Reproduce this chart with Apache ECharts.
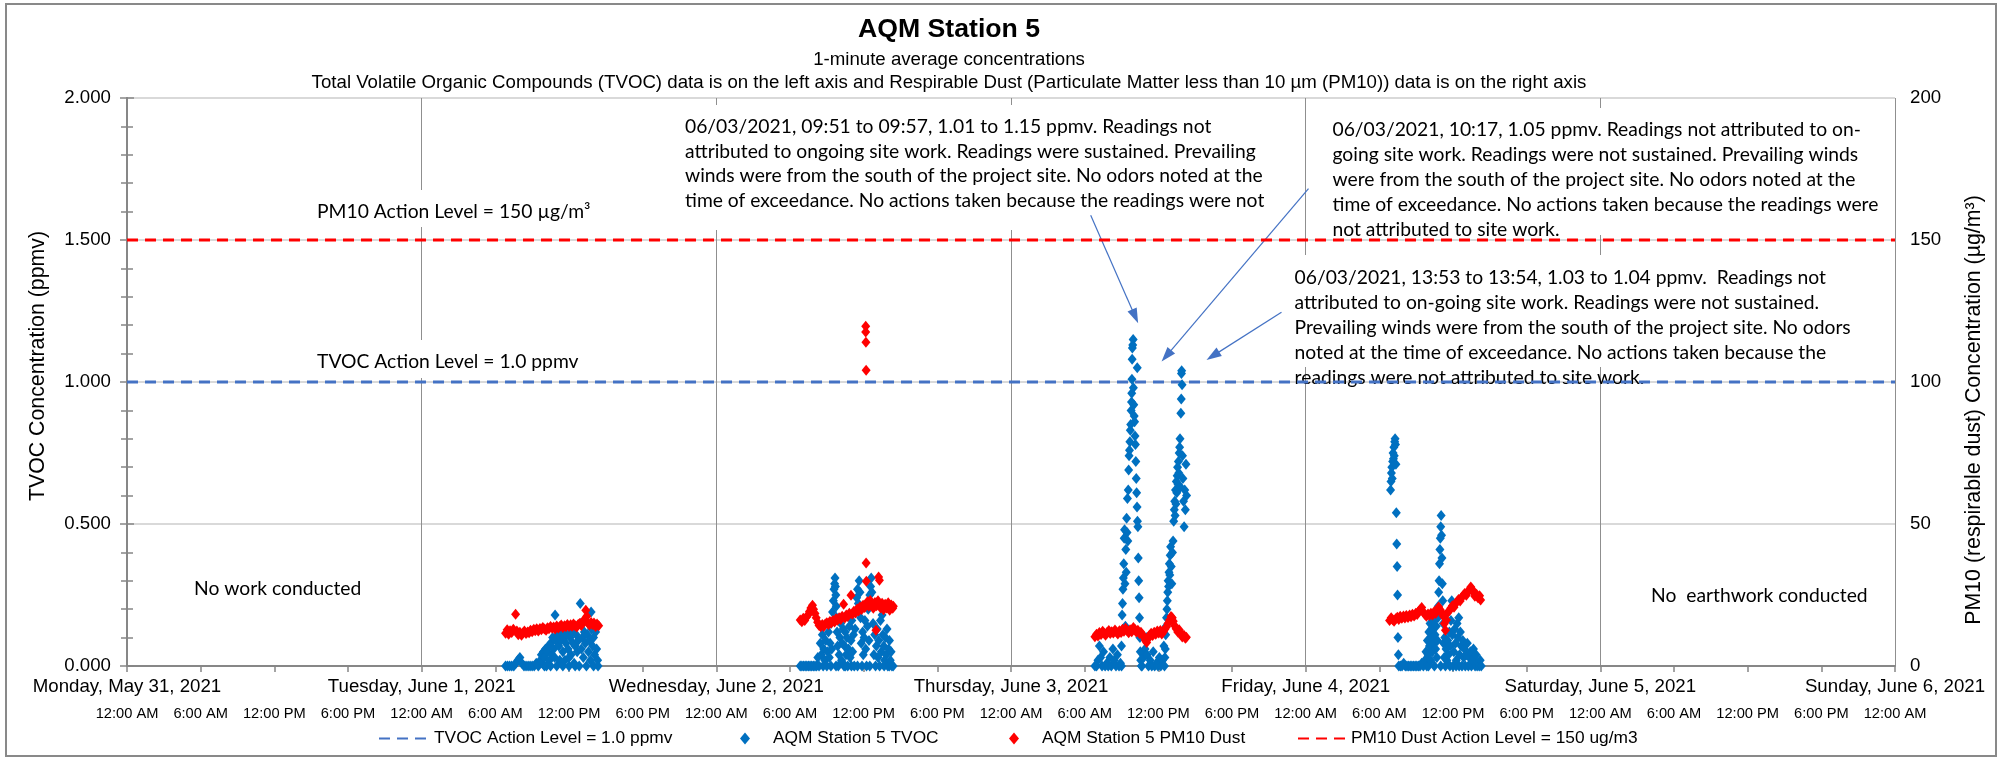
<!DOCTYPE html>
<html>
<head>
<meta charset="utf-8">
<script src="https://cdn.jsdelivr.net/npm/echarts@6/dist/echarts.min.js"></script>
<style>
html,body{margin:0;padding:0;background:#fff;}
#chart{width:2001px;height:761px;}
</style>
</head>
<body>
<div id="chart"></div>
<script>
// ---------------- DATA ----------------
// x axis: hours since Monday, May 31, 2021 00:00
const dayLabels = ["Monday, May 31, 2021","Tuesday, June 1, 2021","Wednesday, June 2, 2021","Thursday, June 3, 2021","Friday, June 4, 2021","Saturday, June 5, 2021","Sunday, June 6, 2021"];
const timeLabels = ["12:00 AM","6:00 AM","12:00 PM","6:00 PM"];
const xMaxHours = 144;
const tvocTicks = [0, 2, 0.5];      // min, max, interval (ppmv)
const pm10Ticks = [0, 200, 50];     // min, max, interval (ug/m3)
const tvocActionLevel = 1.0;
const pm10ActionLevel = 150;

// TVOC (ppmv), [time of day, value]
const tvocJun1 = [["06:50",0],["07:00",0],["07:10",0],["07:20",0],["07:30",0],["07:40",0.01],["07:50",0.02],["08:00",0.03],["08:10",0.01],["08:20",0],["08:30",0],["08:40",0],["08:50",0],["09:00",0],["09:10",0],["09:20",0.01],["09:30",0],["09:40",0.02],["09:45",0.04],["09:50",0.01],["09:55",0.05],["10:00",0.03],["10:00",0],["10:05",0.06],["10:10",0],["10:15",0.05],["10:20",0.07],["10:25",0.02],["10:30",0.08],["10:30",0],["10:35",0.04],["10:40",0.10],["10:45",0.06],["10:50",0.03],["10:52",0.18],["10:55",0.09],["11:00",0],["11:05",0.11],["11:10",0.07],["11:15",0.02],["11:20",0.09],["11:25",0.12],["11:30",0.05],["11:30",0],["11:35",0.10],["11:40",0.02],["11:45",0.08],["11:50",0.11],["11:55",0.06],["12:00",0],["12:00",0.03],["12:05",0.10],["12:10",0.04],["12:15",0.12],["12:20",0.08],["12:25",0.01],["12:30",0.07],["12:30",0],["12:35",0.11],["12:40",0.05],["12:45",0.09],["12:50",0],["12:55",0.22],["12:57",0.15],["13:00",0.06],["13:05",0.10],["13:10",0.03],["13:15",0.12],["13:20",0.08],["13:25",0],["13:30",0.11],["13:35",0.05],["13:40",0.09],["13:45",0.02],["13:48",0.19],["13:50",0.13],["13:55",0.07],["14:00",0],["14:00",0.10],["14:05",0.04],["14:10",0.12],["14:15",0.06],["14:20",0.02],["14:22",0]];
const tvocJun2 = [["06:50",0],["06:58",0],["07:06",0],["07:14",0],["07:22",0],["07:30",0],["07:38",0],["07:46",0],["07:54",0],["08:02",0],["08:10",0],["08:16",0.03],["08:22",0],["08:28",0.08],["08:33",0.04],["08:38",0.11],["08:42",0],["08:45",0.06],["08:50",0.02],["08:55",0.09],["09:00",0],["09:04",0.05],["09:08",0.12],["09:12",0.03],["09:16",0.08],["09:20",0.15],["09:20",0],["09:24",0.06],["09:28",0.19],["09:32",0.23],["09:35",0.27],["09:38",0.29],["09:40",0.31],["09:42",0.28],["09:44",0.25],["09:45",0],["09:46",0.21],["09:48",0.17],["09:50",0.12],["09:53",0.07],["09:56",0],["10:00",0.04],["10:04",0.10],["10:08",0.15],["10:12",0.02],["10:16",0.08],["10:20",0.13],["10:24",0],["10:27",0.07],["10:30",0.12],["10:30",0],["10:34",0.04],["10:38",0.10],["10:42",0],["10:46",0.06],["10:50",0.14],["10:54",0.03],["10:58",0.09],["11:00",0],["11:02",0.16],["11:06",0.05],["11:10",0.11],["11:14",0],["11:18",0.13],["11:22",0.19],["11:26",0.24],["11:30",0.27],["11:30",0],["11:34",0.22],["11:38",0.30],["11:42",0.26],["11:45",0.17],["11:48",0.08],["11:52",0],["11:55",0.12],["11:58",0.04],["12:02",0.10],["12:06",0.16],["12:10",0.06],["12:14",0],["12:18",0.14],["12:22",0.20],["12:26",0.09],["12:30",0.25],["12:30",0],["12:34",0.28],["12:37",0.31],["12:40",0.26],["12:43",0.21],["12:46",0.15],["12:50",0.04],["12:54",0.11],["12:58",0],["13:02",0.07],["13:06",0.13],["13:10",0.03],["13:14",0.09],["13:18",0],["13:22",0.16],["13:26",0.05],["13:30",0.18],["13:34",0.11],["13:38",0.07],["13:40",0],["13:42",0.02],["13:46",0.10],["13:50",0.04],["13:54",0.13],["13:58",0],["14:02",0.06],["14:05",0],["14:06",0.09],["14:10",0.02],["14:14",0.05],["14:18",0],["14:24",0]];
const tvocJun3 = [["06:50",0],["06:58",0],["07:05",0.02],["07:12",0.07],["07:18",0.03],["07:25",0],["07:32",0.05],["07:40",0],["07:48",0.01],["07:55",0],["08:03",0.03],["08:10",0],["08:18",0.06],["08:25",0.02],["08:33",0],["08:40",0.04],["08:48",0],["08:55",0.01],["09:00",0.07],["09:00",0],["09:03",0.18],["09:05",0.22],["09:07",0.27],["09:09",0.31],["09:11",0.36],["09:13",0.45],["09:15",0.48],["09:17",0.29],["09:19",0.14],["09:21",0.41],["09:23",0.33],["09:25",0.52],["09:27",0.47],["09:29",0.59],["09:31",0.44],["09:33",0.62],["09:35",0.69],["09:37",0.74],["09:39",0.76],["09:41",0.79],["09:43",0.83],["09:45",0.85],["09:47",0.90],["09:49",0.93],["09:50",0.96],["09:51",1.01],["09:52",1.08],["09:53",1.12],["09:55",1.13],["09:57",1.15],["09:58",0.98],["10:00",0.92],["10:02",0.88],["10:04",0.86],["10:06",0.81],["10:08",0.78],["10:10",0.72],["10:12",0.66],["10:14",0.61],["10:16",0.56],["10:17",1.05],["10:18",0.51],["10:20",0.49],["10:22",0.38],["10:24",0.30],["10:26",0.24],["10:28",0.17],["10:30",0.10],["10:32",0.05],["10:34",0.02],["10:37",0],["10:40",0],["10:48",0.03],["10:55",0.06],["11:00",0.10],["11:05",0.04],["11:12",0],["11:20",0.02],["11:28",0],["11:35",0.05],["11:42",0],["11:50",0.01],["11:58",0],["12:05",0.03],["12:12",0],["12:20",0.02],["12:27",0.07],["12:30",0],["12:32",0.03],["12:34",0.06],["12:36",0.11],["12:38",0.14],["12:40",0.17],["12:42",0.20],["12:44",0.23],["12:46",0.26],["12:48",0.30],["12:50",0.28],["12:52",0.33],["12:54",0.36],["12:56",0.32],["12:58",0.39],["13:00",0.42],["13:03",0.35],["13:06",0.29],["13:09",0.40],["13:12",0.44],["13:15",0.51],["13:18",0.55],["13:20",0.58],["13:22",0.53],["13:24",0.62],["13:26",0.57],["13:28",0.65],["13:30",0.61],["13:32",0.67],["13:34",0.70],["13:36",0.64],["13:38",0.72],["13:40",0.68],["13:42",0.75],["13:44",0.77],["13:46",0.80],["13:48",0.63],["13:50",0.89],["13:52",0.94],["13:53",1.03],["13:54",1.04],["13:56",0.99],["13:58",0.74],["14:00",0.66],["14:03",0.58],["14:06",0.49],["14:09",0.62],["14:12",0.55],["14:15",0.71],["14:18",0.60]];
const tvocJun4 = [["06:55",0.62],["06:57",0.65],["06:59",0.68],["07:01",0.70],["07:03",0.66],["07:05",0.72],["07:07",0.75],["07:09",0.73],["07:11",0.77],["07:13",0.74],["07:15",0.79],["07:17",0.80],["07:19",0.78],["07:21",0.71],["07:23",0.54],["07:25",0.43],["07:27",0.35],["07:29",0.25],["07:31",0.10],["07:33",0.04],["07:35",0],["07:43",0],["07:51",0],["07:59",0.01],["08:07",0],["08:15",0],["08:23",0],["08:31",0],["08:39",0],["08:47",0],["08:55",0],["09:03",0],["09:11",0],["09:19",0],["09:27",0.01],["09:35",0],["09:43",0.02],["09:48",0.05],["09:52",0],["09:55",0.09],["09:58",0.04],["10:00",0],["10:02",0.12],["10:05",0.07],["10:08",0.15],["10:11",0.02],["10:14",0.10],["10:17",0.13],["10:20",0.05],["10:23",0.16],["10:26",0.08],["10:29",0],["10:32",0.11],["10:35",0.06],["10:38",0.14],["10:41",0.03],["10:44",0.09],["10:46",0.17],["10:48",0.21],["10:50",0.26],["10:52",0.30],["10:54",0.36],["10:56",0.41],["10:58",0.45],["11:00",0.49],["11:00",0],["11:02",0.53],["11:04",0.46],["11:06",0.38],["11:08",0.29],["11:10",0.23],["11:12",0.15],["11:14",0.08],["11:17",0.03],["11:20",0.10],["11:23",0],["11:26",0.06],["11:30",0.02],["11:34",0.09],["11:38",0.04],["11:42",0.12],["11:45",0],["11:46",0.07],["11:50",0.16],["11:54",0.23],["11:57",0.11],["12:00",0],["12:04",0.05],["12:08",0.13],["12:12",0.08],["12:15",0],["12:16",0.02],["12:20",0.15],["12:24",0.10],["12:28",0.17],["12:30",0],["12:32",0.04],["12:36",0.12],["12:40",0.07],["12:44",0],["12:48",0.09],["12:52",0.03],["12:56",0.06],["13:00",0],["13:05",0.04],["13:10",0.08],["13:15",0],["13:20",0.03],["13:25",0.05],["13:30",0],["13:35",0.02],["13:40",0.06],["13:43",0.03],["13:48",0],["13:53",0.04],["13:58",0],["14:03",0.01],["14:08",0],["14:13",0.02],["14:18",0]];

// PM10 dust (ug/m3), [time of day, value]
const pm10Jun1 = [["06:50",11.5],["06:58",12.8],["07:05",11.2],["07:12",12.4],["07:20",11.8],["07:28",12.9],["07:39",18.2],["07:45",12.3],["07:52",11.0],["08:00",11.9],["08:08",10.8],["08:15",11.6],["08:22",12.3],["08:30",11.4],["08:38",12.0],["08:45",11.7],["08:52",12.6],["09:00",12.1],["09:08",12.9],["09:15",12.4],["09:22",13.1],["09:30",12.3],["09:38",13.2],["09:45",12.8],["09:52",13.6],["10:00",13.0],["10:08",12.6],["10:15",13.5],["10:22",13.1],["10:30",13.9],["10:38",13.3],["10:45",13.7],["10:52",13.0],["11:00",14.1],["11:08",13.4],["11:15",13.9],["11:22",14.4],["11:30",13.6],["11:38",14.2],["11:45",13.8],["11:52",14.6],["12:00",13.9],["12:08",14.5],["12:15",14.0],["12:22",14.8],["12:30",14.2],["12:38",13.7],["12:45",14.6],["12:52",15.0],["13:00",14.3],["13:08",15.2],["13:15",16.4],["13:22",19.6],["13:27",17.5],["13:32",15.1],["13:40",14.4],["13:48",15.3],["13:55",14.6],["14:02",15.1],["14:10",13.9],["14:17",14.8],["14:25",14.2]];
const pm10Jun2 = [["06:50",16.2],["06:58",15.6],["07:05",16.8],["07:12",16.0],["07:20",17.2],["07:28",18.0],["07:35",19.2],["07:42",20.4],["07:50",21.4],["07:55",20.0],["08:02",18.5],["08:08",17.0],["08:15",15.4],["08:22",14.3],["08:30",13.8],["08:38",14.6],["08:45",13.9],["08:52",14.8],["09:00",15.2],["09:08",14.6],["09:15",15.7],["09:22",15.1],["09:30",16.0],["09:38",15.5],["09:45",16.6],["09:52",16.1],["10:00",17.0],["10:08",16.4],["10:15",17.5],["10:22",21.7],["10:28",16.9],["10:35",18.0],["10:42",17.4],["10:50",18.6],["10:58",24.9],["11:05",18.2],["11:12",19.3],["11:20",18.7],["11:28",20.1],["11:35",19.4],["11:42",20.8],["11:50",19.9],["11:57",21.4],["12:05",20.6],["12:10",119.6],["12:10",117.6],["12:11",114.0],["12:12",104.1],["12:12",36.3],["12:13",29.8],["12:18",22.6],["12:25",21.0],["12:32",23.1],["12:40",21.6],["12:47",20.3],["12:55",22.4],["13:00",12.6],["13:03",21.2],["13:10",23.0],["13:13",31.3],["13:17",30.2],["13:22",20.5],["13:30",22.1],["13:37",19.8],["13:45",21.7],["13:52",20.4],["14:00",22.3],["14:07",19.6],["14:15",21.5],["14:22",20.3],["14:25",21.0]];
const pm10Jun3 = [["06:50",10.3],["06:58",11.2],["07:05",10.6],["07:12",11.8],["07:20",11.1],["07:28",12.2],["07:35",11.5],["07:42",10.8],["07:50",11.9],["07:58",12.5],["08:05",11.4],["08:12",12.1],["08:20",11.6],["08:28",12.7],["08:35",12.0],["08:42",11.3],["08:50",12.4],["08:58",11.8],["09:05",12.9],["09:12",12.2],["09:20",13.3],["09:28",12.4],["09:35",11.7],["09:42",12.8],["09:50",12.1],["09:58",13.6],["10:05",12.9],["10:12",12.0],["10:20",12.6],["10:28",11.4],["10:35",11.9],["10:42",10.9],["10:50",10.2],["10:57",9.0],["11:03",8.3],["11:10",9.6],["11:17",10.8],["11:25",11.5],["11:32",10.7],["11:40",11.9],["11:47",11.2],["11:55",12.3],["12:02",11.6],["12:10",12.5],["12:17",11.3],["12:25",12.1],["12:32",12.9],["12:40",13.8],["12:47",15.0],["12:55",16.2],["13:02",17.4],["13:08",17.0],["13:13",15.8],["13:20",14.2],["13:27",13.1],["13:35",12.0],["13:42",12.8],["13:50",11.3],["13:57",10.2],["14:05",10.8],["14:12",9.8],["14:17",10.1]];
const pm10Jun4 = [["06:50",16.0],["06:58",17.0],["07:05",16.3],["07:12",15.8],["07:20",16.6],["07:28",17.2],["07:35",16.4],["07:42",17.5],["07:50",16.8],["07:58",17.6],["08:05",16.9],["08:12",17.8],["08:20",17.1],["08:28",18.0],["08:35",17.3],["08:42",18.2],["08:50",17.6],["08:58",18.6],["09:05",18.1],["09:12",19.3],["09:20",19.9],["09:27",20.6],["09:35",19.0],["09:42",18.2],["09:50",17.5],["09:58",18.3],["10:05",17.8],["10:12",18.6],["10:20",18.0],["10:28",19.1],["10:35",18.5],["10:42",19.6],["10:50",20.8],["10:57",19.8],["11:05",18.9],["11:12",17.6],["11:18",15.0],["11:23",12.6],["11:28",16.2],["11:35",18.8],["11:42",19.5],["11:50",20.4],["11:57",21.2],["12:05",20.7],["12:12",22.0],["12:20",22.6],["12:27",23.4],["12:35",22.9],["12:42",24.1],["12:50",24.8],["12:57",25.5],["13:05",24.9],["13:12",26.2],["13:20",26.8],["13:27",27.8],["13:33",27.0],["13:40",25.9],["13:47",24.6],["13:55",25.3],["14:02",24.0],["14:10",24.7],["14:15",23.2]];

// annotation arrows, in data units [hours, ppmv] : [start, end]
const arrow0951 = [[78.49, 1.587], [82.11, 1.231]];
const arrow1017 = [[96.23, 1.681], [84.66, 1.092]];
const arrow1353 = [[94.03, 1.246], [88.44, 1.092]];

// ---------------- BUILD ----------------
function toHours(day, hhmm) {
  const p = hhmm.split(':');
  return day * 24 + Number(p[0]) + Number(p[1]) / 60;
}
function build(days) {
  const out = [];
  days.forEach(function (d) {
    d[1].forEach(function (pt) { out.push([toHours(d[0], pt[0]), pt[1]]); });
  });
  return out;
}
const tvocData = build([[1, tvocJun1], [2, tvocJun2], [3, tvocJun3], [4, tvocJun4]]);
const pm10Data = build([[1, pm10Jun1], [2, pm10Jun2], [3, pm10Jun3], [4, pm10Jun4]]);

const ARIAL = "'Liberation Sans', Arial, sans-serif";
const CALI = "Lato, 'Open Sans', sans-serif";
const AXC = '#878787';
const AX_FS = 18.67;

const note1 = ["06/03/2021, 09:51 to 09:57, 1.01 to 1.15 ppmv. Readings not",
  "attributed to ongoing site work. Readings were sustained. Prevailing",
  "winds were from the south of the project site. No odors noted at the",
  "time of exceedance. No actions taken because the readings were not"];
const note2 = ["06/03/2021, 10:17, 1.05 ppmv. Readings not attributed to on-",
  "going site work. Readings were not sustained. Prevailing winds",
  "were from the south of the project site. No odors noted at the",
  "time of exceedance. No actions taken because the readings were",
  "not attributed to site work."];
const note3 = ["06/03/2021, 13:53 to 13:54, 1.03 to 1.04 ppmv.  Readings not",
  "attributed to on-going site work. Readings were not sustained.",
  "Prevailing winds were from the south of the project site. No odors",
  "noted at the time of exceedance. No actions taken because the",
  "readings were not attributed to site work."];

const NOTE_FS = 19.3;
function whiteBox(x, y, w, h) {
  return { type: 'rect', z: 5, silent: true, shape: { x: x, y: y, width: w, height: h }, style: { fill: '#ffffff' } };
}
function txt(x, y, s, font, opt) {
  const st = Object.assign({ text: s, x: 0, y: 0, font: font, fill: '#000', align: 'left', verticalAlign: 'middle' }, opt || {});
  return { type: 'text', z: 6, silent: true, x: x, y: y, style: st };
}
const lineLegend = { itemStyle: { opacity: 0 } };

const chart = echarts.init(document.getElementById('chart'), null, { renderer: 'canvas' });
const option = {
  animation: false,
  backgroundColor: '#ffffff',
  grid: { left: 127, right: 106, top: 98, bottom: 95, containLabel: false, outerBoundsMode: 'none' },
  xAxis: [
    {
      type: 'value', min: 0, max: xMaxHours, interval: 24, position: 'bottom',
      axisLine: { show: true, onZero: false, lineStyle: { color: AXC, width: 2 } },
      axisTick: { show: true, length: 6, lineStyle: { color: AXC, width: 1.5 } },
      minorTick: { show: true, splitNumber: 4, length: 6, lineStyle: { color: AXC, width: 1.5 } },
      splitLine: { show: true, lineStyle: { color: '#8f8f8f', width: 1 } },
      minorSplitLine: { show: false },
      axisLabel: { formatter: function (v) { return dayLabels[Math.round(v / 24)]; }, fontSize: AX_FS, fontFamily: ARIAL, color: '#000', margin: 11, showMinLabel: true, showMaxLabel: true }
    },
    {
      type: 'value', min: 0, max: xMaxHours, interval: 6, position: 'bottom',
      axisLine: { show: false }, axisTick: { show: false }, splitLine: { show: false },
      axisLabel: { formatter: function (v) { return timeLabels[Math.round(v / 6) % 4]; }, fontSize: 14.67, fontFamily: ARIAL, color: '#000', margin: 40, showMinLabel: true, showMaxLabel: true }
    }
  ],
  yAxis: [
    {
      type: 'value', min: tvocTicks[0], max: tvocTicks[1], interval: tvocTicks[2], position: 'left',
      axisLine: { show: true, lineStyle: { color: AXC, width: 2 } },
      axisTick: { show: true, length: 7, lineStyle: { color: AXC, width: 1.5 } },
      minorTick: { show: true, splitNumber: 5, length: 6, lineStyle: { color: AXC, width: 1.5 } },
      splitLine: { show: true, lineStyle: { color: '#d9d9d9', width: 2 } },
      axisLabel: { formatter: function (v) { return v.toFixed(3); }, fontSize: AX_FS, fontFamily: ARIAL, color: '#000', margin: 16 }
    },
    {
      type: 'value', min: pm10Ticks[0], max: pm10Ticks[1], interval: pm10Ticks[2], position: 'right',
      axisLine: { show: true, lineStyle: { color: AXC, width: 2 } },
      axisTick: { show: true, length: 7, lineStyle: { color: AXC, width: 1.5 } },
      minorTick: { show: true, splitNumber: 5, length: 6, lineStyle: { color: AXC, width: 1.5 } },
      splitLine: { show: false },
      axisLabel: { fontSize: AX_FS, fontFamily: ARIAL, color: '#000', margin: 15 }
    }
  ],
  legend: [
    Object.assign({ data: ['TVOC Action Level = 1.0 ppmv'], left: 378, top: 730, padding: 0, itemWidth: 50, itemHeight: 12, selectedMode: false, textStyle: { fontSize: 17.33, fontFamily: ARIAL, color: '#000' } }, lineLegend),
    { data: [{ name: 'AQM Station 5 TVOC', icon: 'diamond' }], left: 740, top: 730, padding: 0, itemWidth: 10, itemHeight: 12, selectedMode: false, textStyle: { fontSize: 17.33, fontFamily: ARIAL, color: '#000', padding: [0, 0, 0, 18] } },
    { data: [{ name: 'AQM Station 5 PM10 Dust', icon: 'diamond' }], left: 1009, top: 730, padding: 0, itemWidth: 10, itemHeight: 12, selectedMode: false, textStyle: { fontSize: 17.33, fontFamily: ARIAL, color: '#000', padding: [0, 0, 0, 18] } },
    Object.assign({ data: ['PM10 Dust Action Level = 150 ug/m3'], left: 1297, top: 730, padding: 0, itemWidth: 48, itemHeight: 12, selectedMode: false, textStyle: { fontSize: 17.33, fontFamily: ARIAL, color: '#000' } }, lineLegend)
  ],
  series: [
    {
      name: 'TVOC Action Level = 1.0 ppmv', type: 'line', xAxisIndex: 0, yAxisIndex: 0, z: 8,
      data: [[0, tvocActionLevel], [xMaxHours, tvocActionLevel]], symbol: 'none', showSymbol: false, silent: true,
      lineStyle: { color: '#4472C4', width: 3, type: [11, 7] }, itemStyle: { color: '#4472C4' }
    },
    {
      name: 'AQM Station 5 TVOC', type: 'scatter', xAxisIndex: 0, yAxisIndex: 0, z: 10,
      data: tvocData, symbol: 'diamond', symbolSize: [9, 11], silent: true,
      itemStyle: { color: '#0070C0', opacity: 1 },
      markLine: {
        silent: true, animation: false, symbol: ['none', 'triangle'], symbolSize: [10, 15],
        label: { show: false }, emphasis: { disabled: true },
        lineStyle: { color: '#4472C4', width: 1.2, type: 'solid' },
        data: [
          [{ coord: arrow0951[0] }, { coord: arrow0951[1] }],
          [{ coord: arrow1017[0] }, { coord: arrow1017[1] }],
          [{ coord: arrow1353[0] }, { coord: arrow1353[1] }]
        ]
      }
    },
    {
      name: 'AQM Station 5 PM10 Dust', type: 'scatter', xAxisIndex: 0, yAxisIndex: 1, z: 11,
      data: pm10Data, symbol: 'diamond', symbolSize: [9, 11], silent: true,
      itemStyle: { color: '#FF0000', opacity: 1 }
    },
    {
      name: 'PM10 Dust Action Level = 150 ug/m3', type: 'line', xAxisIndex: 0, yAxisIndex: 1, z: 12,
      data: [[0, pm10ActionLevel], [xMaxHours, pm10ActionLevel]], symbol: 'none', showSymbol: false, silent: true,
      lineStyle: { color: '#FF0000', width: 3, type: [11, 7] }, itemStyle: { color: '#FF0000' }
    }
  ],
  graphic: [
    { type: 'rect', z: 20, silent: true, shape: { x: 6, y: 4, width: 1990, height: 752 }, style: { fill: 'transparent', stroke: '#898989', lineWidth: 2 } },
    txt(949, 30, 'AQM Station 5', "bold 26.67px " + ARIAL, { align: 'center' }),
    txt(949, 59.5, '1-minute average concentrations', AX_FS + "px " + ARIAL, { align: 'center' }),
    txt(949, 82.5, 'Total Volatile Organic Compounds (TVOC) data is on the left axis and Respirable Dust (Particulate Matter less than 10 µm (PM10)) data is on the right axis', AX_FS + "px " + ARIAL, { align: 'center' }),
    { type: 'text', z: 6, silent: true, x: 38, y: 366, rotation: Math.PI / 2, style: { text: 'TVOC Concentration (ppmv)', x: 0, y: 0, font: "21.33px " + ARIAL, fill: '#000', align: 'center', verticalAlign: 'middle' } },
    { type: 'text', z: 6, silent: true, x: 1974, y: 410, rotation: Math.PI / 2, style: { text: 'PM10 (respirable dust) Concentration (µg/m³)', x: 0, y: 0, font: "21.33px " + ARIAL, fill: '#000', align: 'center', verticalAlign: 'middle' } },
    whiteBox(678, 105, 602, 125),
    whiteBox(1318, 108, 562, 127),
    whiteBox(1288, 255, 592, 112),
    whiteBox(308, 190, 282, 37),
    whiteBox(308, 340, 270, 38),
    txt(685, 114.2, note1.join('\n'), NOTE_FS + "px " + CALI, { verticalAlign: 'top', lineHeight: 24.8 }),
    txt(1332.5, 117.2, note2.join('\n'), NOTE_FS + "px " + CALI, { verticalAlign: 'top', lineHeight: 25 }),
    txt(1294.6, 265, note3.join('\n'), NOTE_FS + "px " + CALI, { verticalAlign: 'top', lineHeight: 25 }),
    txt(317, 211.7, 'PM10 Action Level = 150 µg/m³', NOTE_FS + "px " + CALI),
    txt(317, 361.7, 'TVOC Action Level = 1.0 ppmv', NOTE_FS + "px " + CALI),
    txt(194, 589, 'No work conducted', NOTE_FS + "px " + CALI),
    txt(1651, 596, 'No  earthwork conducted', NOTE_FS + "px " + CALI)
  ]
};
chart.setOption(option);
</script>
</body>
</html>
